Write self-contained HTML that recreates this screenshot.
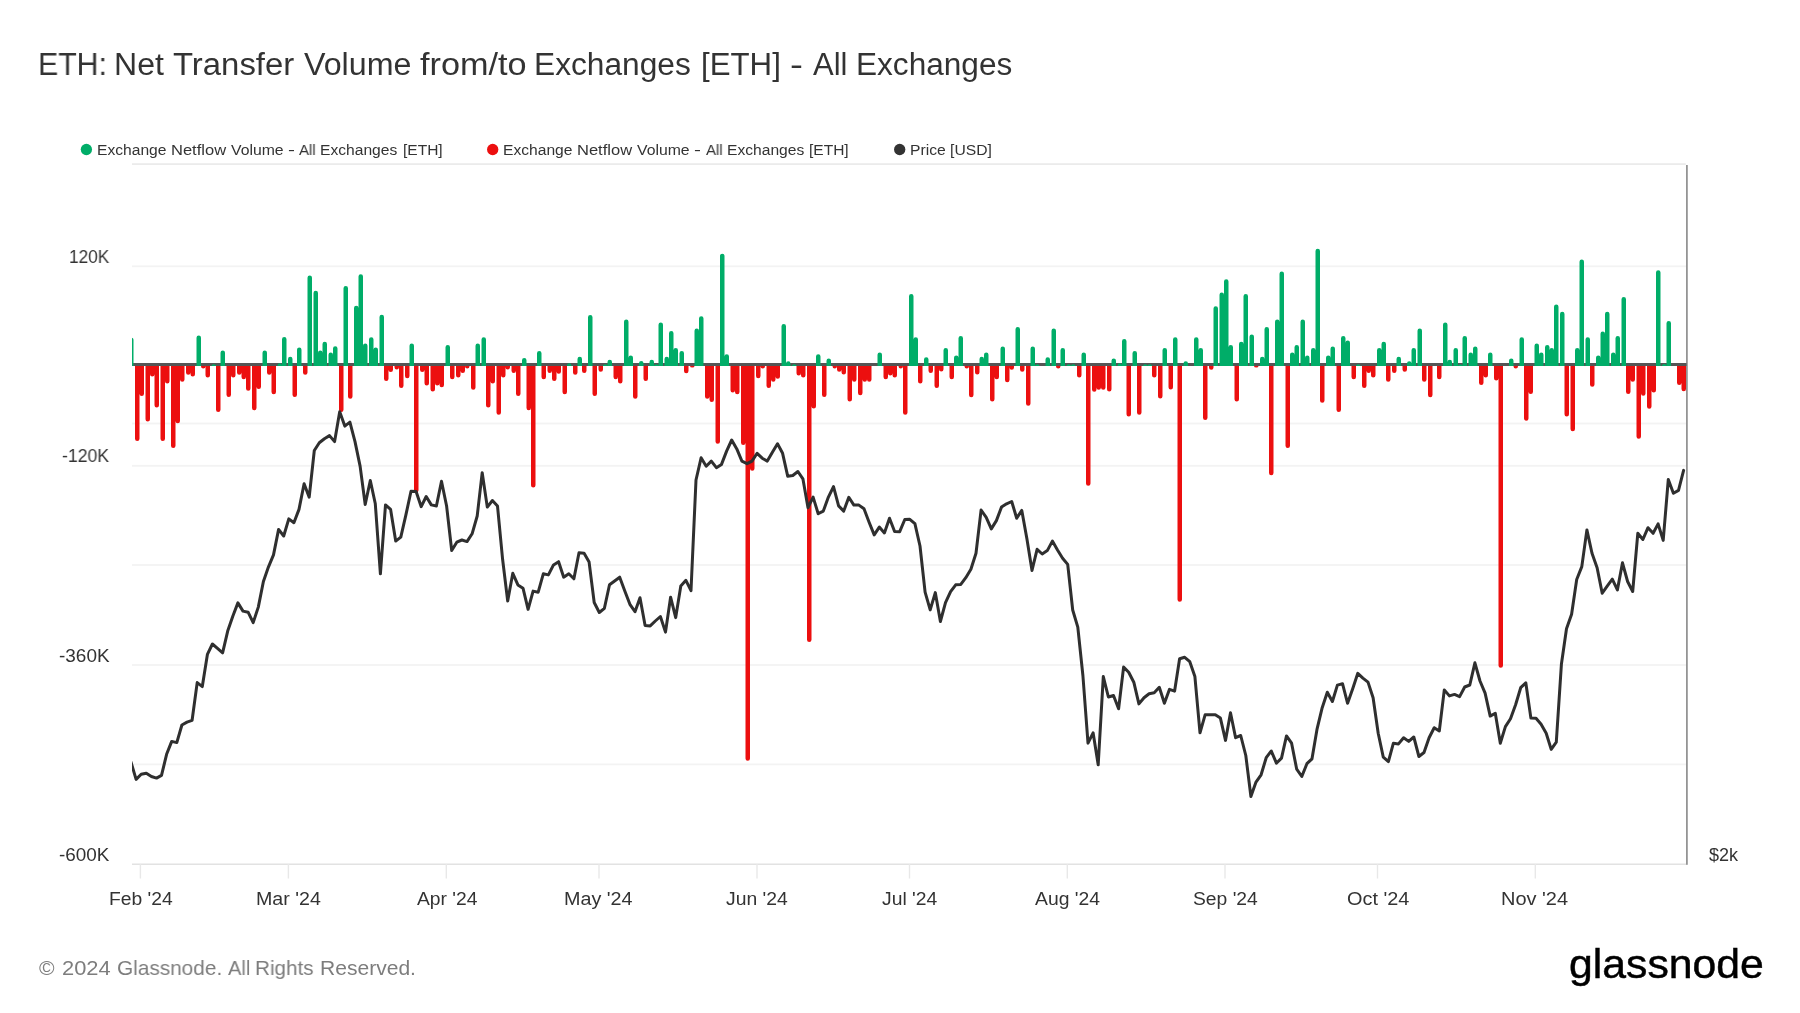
<!DOCTYPE html>
<html><head><meta charset="utf-8"><title>ETH: Net Transfer Volume from/to Exchanges</title>
<style>
html,body{margin:0;padding:0;background:#fff;}
body{width:1800px;height:1013px;position:relative;overflow:hidden;font-family:"Liberation Sans",sans-serif;color:#333;}
.t{position:absolute;white-space:nowrap;line-height:1;transform-origin:0 0;will-change:transform;}
.foot{color:#7d7d7d;}
.logo{color:#000;-webkit-text-stroke:0.45px #000;}
</style></head><body>
<svg width="1800" height="1013" viewBox="0 0 1800 1013" style="position:absolute;left:0;top:0"><defs><clipPath id="cg"><rect x="132" y="160" width="1555" height="206.0"/></clipPath><clipPath id="cr"><rect x="132" y="366.0" width="1555" height="500"/></clipPath><clipPath id="cp"><rect x="132" y="164" width="1555" height="700"/></clipPath></defs><rect x="132" y="265.4" width="1554" height="1.8" fill="#f3f3f3"/><rect x="132" y="422.6" width="1554" height="1.8" fill="#f3f3f3"/><rect x="132" y="464.9" width="1554" height="1.8" fill="#f3f3f3"/><rect x="132" y="564.1" width="1554" height="1.8" fill="#f3f3f3"/><rect x="132" y="664.1" width="1554" height="1.8" fill="#f3f3f3"/><rect x="132" y="763.5" width="1554" height="1.8" fill="#f3f3f3"/><rect x="132" y="163.3" width="1553.8" height="1.6" fill="#e9e9e9"/><rect x="132" y="863.5" width="1554" height="1.5" fill="#e2e2e2"/><rect x="139.7" y="864" width="1.4" height="14.5" fill="#e8e8e8"/><rect x="287.7" y="864" width="1.4" height="14.5" fill="#e8e8e8"/><rect x="445.6" y="864" width="1.4" height="14.5" fill="#e8e8e8"/><rect x="598.3" y="864" width="1.4" height="14.5" fill="#e8e8e8"/><rect x="756.3" y="864" width="1.4" height="14.5" fill="#e8e8e8"/><rect x="908.8" y="864" width="1.4" height="14.5" fill="#e8e8e8"/><rect x="1066.6" y="864" width="1.4" height="14.5" fill="#e8e8e8"/><rect x="1224.3" y="864" width="1.4" height="14.5" fill="#e8e8e8"/><rect x="1376.8" y="864" width="1.4" height="14.5" fill="#e8e8e8"/><rect x="1534.6" y="864" width="1.4" height="14.5" fill="#e8e8e8"/><rect x="1686.05" y="165" width="1.7" height="699.8" fill="#8f8f8f"/><rect x="132" y="363.0" width="1554.5" height="3" fill="#555"/><path d="M135.00 366.00V438.75a2.25 2.25 0 0 0 4.50 0V366.00zM139.50 366.00V393.82a2.25 2.25 0 0 0 4.50 0V366.00zM145.50 366.00V419.15a2.25 2.25 0 0 0 4.50 0V366.00zM150.00 366.00V374.26a2.25 2.25 0 0 0 4.50 0V366.00zM154.50 366.00V405.37a2.25 2.25 0 0 0 4.50 0V366.00zM160.50 366.00V438.75a2.25 2.25 0 0 0 4.50 0V366.00zM165.00 366.00V381.37a2.25 2.25 0 0 0 4.50 0V366.00zM171.00 366.00V445.85a2.25 2.25 0 0 0 4.50 0V366.00zM175.50 366.00V420.95a2.25 2.25 0 0 0 4.50 0V366.00zM180.00 366.00V379.59a2.25 2.25 0 0 0 4.50 0V366.00zM186.00 366.00V372.48a2.25 2.25 0 0 0 4.50 0V366.00zM190.50 366.00V374.26a2.25 2.25 0 0 0 4.50 0V366.00zM201.00 366.00V366.26a2.25 2.25 0 0 0 4.50 0V366.00zM205.50 366.00V375.15a2.25 2.25 0 0 0 4.50 0V366.00zM216.00 366.00V409.82a2.25 2.25 0 0 0 4.50 0V366.00zM226.50 366.00V394.71a2.25 2.25 0 0 0 4.50 0V366.00zM231.00 366.00V375.15a2.25 2.25 0 0 0 4.50 0V366.00zM237.00 366.00V372.48a2.25 2.25 0 0 0 4.50 0V366.00zM241.50 366.00V376.93a2.25 2.25 0 0 0 4.50 0V366.00zM246.00 366.00V388.48a2.25 2.25 0 0 0 4.50 0V366.00zM252.00 366.00V408.04a2.25 2.25 0 0 0 4.50 0V366.00zM256.50 366.00V386.71a2.25 2.25 0 0 0 4.50 0V366.00zM267.00 366.00V372.48a2.25 2.25 0 0 0 4.50 0V366.00zM271.50 366.00V392.04a2.25 2.25 0 0 0 4.50 0V366.00zM292.50 366.00V394.71a2.25 2.25 0 0 0 4.50 0V366.00zM303.00 366.00V372.48a2.25 2.25 0 0 0 4.50 0V366.00zM339.00 366.00V409.82a2.25 2.25 0 0 0 4.50 0V366.00zM348.00 366.00V396.48a2.25 2.25 0 0 0 4.50 0V366.00zM384.00 366.00V378.71a2.25 2.25 0 0 0 4.50 0V366.00zM388.50 366.00V369.82a2.25 2.25 0 0 0 4.50 0V366.00zM394.50 366.00V367.15a2.25 2.25 0 0 0 4.50 0V366.00zM399.00 366.00V385.82a2.25 2.25 0 0 0 4.50 0V366.00zM405.00 366.00V376.04a2.25 2.25 0 0 0 4.50 0V366.00zM414.00 366.00V490.25a2.25 2.25 0 0 0 4.50 0V366.00zM420.00 366.00V369.82a2.25 2.25 0 0 0 4.50 0V366.00zM424.50 366.00V383.15a2.25 2.25 0 0 0 4.50 0V366.00zM430.50 366.00V389.37a2.25 2.25 0 0 0 4.50 0V366.00zM435.00 366.00V383.15a2.25 2.25 0 0 0 4.50 0V366.00zM439.50 366.00V384.93a2.25 2.25 0 0 0 4.50 0V366.00zM450.00 366.00V376.93a2.25 2.25 0 0 0 4.50 0V366.00zM456.00 366.00V375.15a2.25 2.25 0 0 0 4.50 0V366.00zM460.50 366.00V370.71a2.25 2.25 0 0 0 4.50 0V366.00zM465.00 366.00V366.26a2.25 2.25 0 0 0 4.50 0V366.00zM471.00 366.00V387.59a2.25 2.25 0 0 0 4.50 0V366.00zM486.00 366.00V405.37a2.25 2.25 0 0 0 4.50 0V366.00zM490.50 366.00V381.37a2.25 2.25 0 0 0 4.50 0V366.00zM496.50 366.00V412.48a2.25 2.25 0 0 0 4.50 0V366.00zM501.00 366.00V375.15a2.25 2.25 0 0 0 4.50 0V366.00zM505.50 366.00V367.15a2.25 2.25 0 0 0 4.50 0V366.00zM511.50 366.00V370.71a2.25 2.25 0 0 0 4.50 0V366.00zM516.00 366.00V393.82a2.25 2.25 0 0 0 4.50 0V366.00zM526.50 366.00V408.04a2.25 2.25 0 0 0 4.50 0V366.00zM531.00 366.00V485.35a2.25 2.25 0 0 0 4.50 0V366.00zM541.50 366.00V376.93a2.25 2.25 0 0 0 4.50 0V366.00zM547.50 366.00V370.71a2.25 2.25 0 0 0 4.50 0V366.00zM552.00 366.00V378.71a2.25 2.25 0 0 0 4.50 0V366.00zM556.50 366.00V371.59a2.25 2.25 0 0 0 4.50 0V366.00zM562.50 366.00V392.04a2.25 2.25 0 0 0 4.50 0V366.00zM573.00 366.00V372.48a2.25 2.25 0 0 0 4.50 0V366.00zM582.00 366.00V370.71a2.25 2.25 0 0 0 4.50 0V366.00zM592.50 366.00V393.82a2.25 2.25 0 0 0 4.50 0V366.00zM598.50 366.00V369.46a2.25 2.25 0 0 0 4.50 0V366.00zM613.50 366.00V376.93a2.25 2.25 0 0 0 4.50 0V366.00zM618.00 366.00V381.37a2.25 2.25 0 0 0 4.50 0V366.00zM633.00 366.00V396.48a2.25 2.25 0 0 0 4.50 0V366.00zM643.50 366.00V378.71a2.25 2.25 0 0 0 4.50 0V366.00zM684.00 366.00V371.06a2.25 2.25 0 0 0 4.50 0V366.00zM690.00 366.00V366.00a2.25 1.62 0 0 0 4.50 0V366.00zM705.00 366.00V396.48a2.25 2.25 0 0 0 4.50 0V366.00zM709.50 366.00V399.68a2.25 2.25 0 0 0 4.50 0V366.00zM715.50 366.00V441.45a2.25 2.25 0 0 0 4.50 0V366.00zM730.50 366.00V390.26a2.25 2.25 0 0 0 4.50 0V366.00zM735.00 366.00V392.04a2.25 2.25 0 0 0 4.50 0V366.00zM741.00 366.00V442.75a2.25 2.25 0 0 0 4.50 0V366.00zM745.50 366.00V758.45a2.25 2.25 0 0 0 4.50 0V366.00zM750.00 366.00V468.45a2.25 2.25 0 0 0 4.50 0V366.00zM756.00 366.00V376.04a2.25 2.25 0 0 0 4.50 0V366.00zM760.50 366.00V366.26a2.25 2.25 0 0 0 4.50 0V366.00zM766.50 366.00V385.82a2.25 2.25 0 0 0 4.50 0V366.00zM771.00 366.00V379.59a2.25 2.25 0 0 0 4.50 0V366.00zM775.50 366.00V376.39a2.25 2.25 0 0 0 4.50 0V366.00zM796.50 366.00V373.37a2.25 2.25 0 0 0 4.50 0V366.00zM801.00 366.00V375.15a2.25 2.25 0 0 0 4.50 0V366.00zM807.00 366.00V639.75a2.25 2.25 0 0 0 4.50 0V366.00zM811.50 366.00V406.26a2.25 2.25 0 0 0 4.50 0V366.00zM822.00 366.00V394.71a2.25 2.25 0 0 0 4.50 0V366.00zM832.50 366.00V366.26a2.25 2.25 0 0 0 4.50 0V366.00zM837.00 366.00V369.46a2.25 2.25 0 0 0 4.50 0V366.00zM841.50 366.00V372.13a2.25 2.25 0 0 0 4.50 0V366.00zM847.50 366.00V399.15a2.25 2.25 0 0 0 4.50 0V366.00zM852.00 366.00V379.59a2.25 2.25 0 0 0 4.50 0V366.00zM858.00 366.00V392.93a2.25 2.25 0 0 0 4.50 0V366.00zM862.50 366.00V379.59a2.25 2.25 0 0 0 4.50 0V366.00zM867.00 366.00V379.59a2.25 2.25 0 0 0 4.50 0V366.00zM883.50 366.00V376.93a2.25 2.25 0 0 0 4.50 0V366.00zM888.00 366.00V373.37a2.25 2.25 0 0 0 4.50 0V366.00zM892.50 366.00V375.15a2.25 2.25 0 0 0 4.50 0V366.00zM898.50 366.00V366.26a2.25 2.25 0 0 0 4.50 0V366.00zM903.00 366.00V412.48a2.25 2.25 0 0 0 4.50 0V366.00zM918.00 366.00V381.37a2.25 2.25 0 0 0 4.50 0V366.00zM928.50 366.00V370.71a2.25 2.25 0 0 0 4.50 0V366.00zM934.50 366.00V385.82a2.25 2.25 0 0 0 4.50 0V366.00zM939.00 366.00V369.28a2.25 2.25 0 0 0 4.50 0V366.00zM949.50 366.00V376.93a2.25 2.25 0 0 0 4.50 0V366.00zM964.50 366.00V366.26a2.25 2.25 0 0 0 4.50 0V366.00zM969.00 366.00V395.06a2.25 2.25 0 0 0 4.50 0V366.00zM975.00 366.00V372.13a2.25 2.25 0 0 0 4.50 0V366.00zM990.00 366.00V399.15a2.25 2.25 0 0 0 4.50 0V366.00zM994.50 366.00V376.93a2.25 2.25 0 0 0 4.50 0V366.00zM1005.00 366.00V379.95a2.25 2.25 0 0 0 4.50 0V366.00zM1009.50 366.00V367.51a2.25 2.25 0 0 0 4.50 0V366.00zM1020.00 366.00V369.46a2.25 2.25 0 0 0 4.50 0V366.00zM1026.00 366.00V403.59a2.25 2.25 0 0 0 4.50 0V366.00zM1056.00 366.00V366.26a2.25 2.25 0 0 0 4.50 0V366.00zM1077.00 366.00V375.15a2.25 2.25 0 0 0 4.50 0V366.00zM1086.00 366.00V483.45a2.25 2.25 0 0 0 4.50 0V366.00zM1092.00 366.00V389.55a2.25 2.25 0 0 0 4.50 0V366.00zM1096.50 366.00V387.59a2.25 2.25 0 0 0 4.50 0V366.00zM1101.00 366.00V387.59a2.25 2.25 0 0 0 4.50 0V366.00zM1107.00 366.00V389.37a2.25 2.25 0 0 0 4.50 0V366.00zM1126.50 366.00V414.26a2.25 2.25 0 0 0 4.50 0V366.00zM1137.00 366.00V412.48a2.25 2.25 0 0 0 4.50 0V366.00zM1152.00 366.00V375.15a2.25 2.25 0 0 0 4.50 0V366.00zM1158.00 366.00V396.13a2.25 2.25 0 0 0 4.50 0V366.00zM1168.50 366.00V387.24a2.25 2.25 0 0 0 4.50 0V366.00zM1177.50 366.00V599.55a2.25 2.25 0 0 0 4.50 0V366.00zM1203.00 366.00V417.65a2.25 2.25 0 0 0 4.50 0V366.00zM1209.00 366.00V367.51a2.25 2.25 0 0 0 4.50 0V366.00zM1234.50 366.00V399.15a2.25 2.25 0 0 0 4.50 0V366.00zM1254.00 366.00V366.00a2.25 1.62 0 0 0 4.50 0V366.00zM1269.00 366.00V473.05a2.25 2.25 0 0 0 4.50 0V366.00zM1285.50 366.00V445.85a2.25 2.25 0 0 0 4.50 0V366.00zM1320.00 366.00V400.57a2.25 2.25 0 0 0 4.50 0V366.00zM1336.50 366.00V409.82a2.25 2.25 0 0 0 4.50 0V366.00zM1351.50 366.00V376.93a2.25 2.25 0 0 0 4.50 0V366.00zM1362.00 366.00V385.82a2.25 2.25 0 0 0 4.50 0V366.00zM1366.50 366.00V370.71a2.25 2.25 0 0 0 4.50 0V366.00zM1371.00 366.00V375.15a2.25 2.25 0 0 0 4.50 0V366.00zM1386.00 366.00V379.59a2.25 2.25 0 0 0 4.50 0V366.00zM1392.00 366.00V370.71a2.25 2.25 0 0 0 4.50 0V366.00zM1402.50 366.00V369.46a2.25 2.25 0 0 0 4.50 0V366.00zM1422.00 366.00V379.59a2.25 2.25 0 0 0 4.50 0V366.00zM1428.00 366.00V395.06a2.25 2.25 0 0 0 4.50 0V366.00zM1437.00 366.00V376.93a2.25 2.25 0 0 0 4.50 0V366.00zM1479.00 366.00V382.79a2.25 2.25 0 0 0 4.50 0V366.00zM1483.50 366.00V375.15a2.25 2.25 0 0 0 4.50 0V366.00zM1494.00 366.00V378.35a2.25 2.25 0 0 0 4.50 0V366.00zM1498.50 366.00V665.55a2.25 2.25 0 0 0 4.50 0V366.00zM1513.50 366.00V366.26a2.25 2.25 0 0 0 4.50 0V366.00zM1524.00 366.00V418.45a2.25 2.25 0 0 0 4.50 0V366.00zM1528.50 366.00V391.68a2.25 2.25 0 0 0 4.50 0V366.00zM1564.50 366.00V414.26a2.25 2.25 0 0 0 4.50 0V366.00zM1570.50 366.00V428.95a2.25 2.25 0 0 0 4.50 0V366.00zM1590.00 366.00V384.39a2.25 2.25 0 0 0 4.50 0V366.00zM1626.00 366.00V391.68a2.25 2.25 0 0 0 4.50 0V366.00zM1630.50 366.00V379.59a2.25 2.25 0 0 0 4.50 0V366.00zM1636.50 366.00V436.45a2.25 2.25 0 0 0 4.50 0V366.00zM1641.00 366.00V393.46a2.25 2.25 0 0 0 4.50 0V366.00zM1647.00 366.00V406.62a2.25 2.25 0 0 0 4.50 0V366.00zM1651.50 366.00V390.26a2.25 2.25 0 0 0 4.50 0V366.00zM1677.00 366.00V382.79a2.25 2.25 0 0 0 4.50 0V366.00zM1681.50 366.00V389.02a2.25 2.25 0 0 0 4.50 0V366.00z" fill="#ec0f0f" clip-path="url(#cr)"/><path d="M129.00 366.00V339.83a2.25 2.25 0 0 1 4.50 0V366.00zM196.50 366.00V337.74a2.25 2.25 0 0 1 4.50 0V366.00zM211.50 366.00V366.00a2.25 1.76 0 0 1 4.50 0V366.00zM220.50 366.00V352.85a2.25 2.25 0 0 1 4.50 0V366.00zM262.50 366.00V352.85a2.25 2.25 0 0 1 4.50 0V366.00zM277.50 366.00V365.61a2.25 2.25 0 0 1 4.50 0V366.00zM282.00 366.00V339.16a2.25 2.25 0 0 1 4.50 0V366.00zM288.00 366.00V359.07a2.25 2.25 0 0 1 4.50 0V366.00zM297.00 366.00V349.83a2.25 2.25 0 0 1 4.50 0V366.00zM307.50 366.00V277.65a2.25 2.25 0 0 1 4.50 0V366.00zM313.50 366.00V292.94a2.25 2.25 0 0 1 4.50 0V366.00zM318.00 366.00V352.85a2.25 2.25 0 0 1 4.50 0V366.00zM322.50 366.00V343.96a2.25 2.25 0 0 1 4.50 0V366.00zM328.50 366.00V354.63a2.25 2.25 0 0 1 4.50 0V366.00zM333.00 366.00V348.41a2.25 2.25 0 0 1 4.50 0V366.00zM343.50 366.00V288.32a2.25 2.25 0 0 1 4.50 0V366.00zM354.00 366.00V308.05a2.25 2.25 0 0 1 4.50 0V366.00zM358.50 366.00V276.41a2.25 2.25 0 0 1 4.50 0V366.00zM363.00 366.00V345.74a2.25 2.25 0 0 1 4.50 0V366.00zM369.00 366.00V339.52a2.25 2.25 0 0 1 4.50 0V366.00zM373.50 366.00V349.83a2.25 2.25 0 0 1 4.50 0V366.00zM379.50 366.00V316.94a2.25 2.25 0 0 1 4.50 0V366.00zM409.50 366.00V345.74a2.25 2.25 0 0 1 4.50 0V366.00zM445.50 366.00V347.16a2.25 2.25 0 0 1 4.50 0V366.00zM475.50 366.00V345.74a2.25 2.25 0 0 1 4.50 0V366.00zM481.50 366.00V339.52a2.25 2.25 0 0 1 4.50 0V366.00zM522.00 366.00V360.32a2.25 2.25 0 0 1 4.50 0V366.00zM537.00 366.00V353.21a2.25 2.25 0 0 1 4.50 0V366.00zM567.00 366.00V365.61a2.25 2.25 0 0 1 4.50 0V366.00zM577.50 366.00V359.07a2.25 2.25 0 0 1 4.50 0V366.00zM588.00 366.00V317.29a2.25 2.25 0 0 1 4.50 0V366.00zM603.00 366.00V366.00a2.25 1.76 0 0 1 4.50 0V366.00zM607.50 366.00V362.09a2.25 2.25 0 0 1 4.50 0V366.00zM624.00 366.00V321.74a2.25 2.25 0 0 1 4.50 0V366.00zM628.50 366.00V357.83a2.25 2.25 0 0 1 4.50 0V366.00zM639.00 366.00V363.16a2.25 2.25 0 0 1 4.50 0V366.00zM649.50 366.00V362.09a2.25 2.25 0 0 1 4.50 0V366.00zM654.00 366.00V366.00a2.25 1.76 0 0 1 4.50 0V366.00zM658.50 366.00V324.76a2.25 2.25 0 0 1 4.50 0V366.00zM664.50 366.00V359.07a2.25 2.25 0 0 1 4.50 0V366.00zM669.00 366.00V333.29a2.25 2.25 0 0 1 4.50 0V366.00zM673.50 366.00V350.18a2.25 2.25 0 0 1 4.50 0V366.00zM679.50 366.00V353.21a2.25 2.25 0 0 1 4.50 0V366.00zM694.50 366.00V330.63a2.25 2.25 0 0 1 4.50 0V366.00zM699.00 366.00V318.54a2.25 2.25 0 0 1 4.50 0V366.00zM720.00 366.00V255.96a2.25 2.25 0 0 1 4.50 0V366.00zM724.50 366.00V356.41a2.25 2.25 0 0 1 4.50 0V366.00zM781.50 366.00V326.18a2.25 2.25 0 0 1 4.50 0V366.00zM786.00 366.00V363.52a2.25 2.25 0 0 1 4.50 0V366.00zM792.00 366.00V366.00a2.25 1.76 0 0 1 4.50 0V366.00zM816.00 366.00V356.41a2.25 2.25 0 0 1 4.50 0V366.00zM826.50 366.00V360.85a2.25 2.25 0 0 1 4.50 0V366.00zM877.50 366.00V354.63a2.25 2.25 0 0 1 4.50 0V366.00zM909.00 366.00V296.32a2.25 2.25 0 0 1 4.50 0V366.00zM913.50 366.00V339.52a2.25 2.25 0 0 1 4.50 0V366.00zM924.00 366.00V359.43a2.25 2.25 0 0 1 4.50 0V366.00zM943.50 366.00V350.18a2.25 2.25 0 0 1 4.50 0V366.00zM954.00 366.00V357.83a2.25 2.25 0 0 1 4.50 0V366.00zM958.50 366.00V338.27a2.25 2.25 0 0 1 4.50 0V366.00zM979.50 366.00V359.07a2.25 2.25 0 0 1 4.50 0V366.00zM984.00 366.00V354.63a2.25 2.25 0 0 1 4.50 0V366.00zM1000.50 366.00V348.76a2.25 2.25 0 0 1 4.50 0V366.00zM1015.50 366.00V329.21a2.25 2.25 0 0 1 4.50 0V366.00zM1030.50 366.00V348.76a2.25 2.25 0 0 1 4.50 0V366.00zM1035.00 366.00V366.00a2.25 1.76 0 0 1 4.50 0V366.00zM1045.50 366.00V359.43a2.25 2.25 0 0 1 4.50 0V366.00zM1051.50 366.00V330.63a2.25 2.25 0 0 1 4.50 0V366.00zM1060.50 366.00V350.18a2.25 2.25 0 0 1 4.50 0V366.00zM1066.50 366.00V366.00a2.25 1.76 0 0 1 4.50 0V366.00zM1071.00 366.00V366.00a2.25 1.76 0 0 1 4.50 0V366.00zM1081.50 366.00V354.63a2.25 2.25 0 0 1 4.50 0V366.00zM1111.50 366.00V360.85a2.25 2.25 0 0 1 4.50 0V366.00zM1117.50 366.00V365.61a2.25 2.25 0 0 1 4.50 0V366.00zM1122.00 366.00V341.29a2.25 2.25 0 0 1 4.50 0V366.00zM1132.50 366.00V353.21a2.25 2.25 0 0 1 4.50 0V366.00zM1143.00 366.00V366.00a2.25 1.76 0 0 1 4.50 0V366.00zM1147.50 366.00V366.00a2.25 1.76 0 0 1 4.50 0V366.00zM1162.50 366.00V350.18a2.25 2.25 0 0 1 4.50 0V366.00zM1173.00 366.00V339.52a2.25 2.25 0 0 1 4.50 0V366.00zM1183.50 366.00V363.52a2.25 2.25 0 0 1 4.50 0V366.00zM1194.00 366.00V339.52a2.25 2.25 0 0 1 4.50 0V366.00zM1198.50 366.00V350.18a2.25 2.25 0 0 1 4.50 0V366.00zM1213.50 366.00V308.41a2.25 2.25 0 0 1 4.50 0V366.00zM1219.50 366.00V294.72a2.25 2.25 0 0 1 4.50 0V366.00zM1224.00 366.00V281.38a2.25 2.25 0 0 1 4.50 0V366.00zM1228.50 366.00V347.16a2.25 2.25 0 0 1 4.50 0V366.00zM1239.00 366.00V343.96a2.25 2.25 0 0 1 4.50 0V366.00zM1243.50 366.00V296.32a2.25 2.25 0 0 1 4.50 0V366.00zM1249.50 366.00V336.85a2.25 2.25 0 0 1 4.50 0V366.00zM1260.00 366.00V359.07a2.25 2.25 0 0 1 4.50 0V366.00zM1264.50 366.00V329.21a2.25 2.25 0 0 1 4.50 0V366.00zM1275.00 366.00V321.74a2.25 2.25 0 0 1 4.50 0V366.00zM1279.50 366.00V273.74a2.25 2.25 0 0 1 4.50 0V366.00zM1290.00 366.00V354.63a2.25 2.25 0 0 1 4.50 0V366.00zM1294.50 366.00V347.16a2.25 2.25 0 0 1 4.50 0V366.00zM1300.50 366.00V321.74a2.25 2.25 0 0 1 4.50 0V366.00zM1305.00 366.00V357.83a2.25 2.25 0 0 1 4.50 0V366.00zM1311.00 366.00V350.18a2.25 2.25 0 0 1 4.50 0V366.00zM1315.50 366.00V250.98a2.25 2.25 0 0 1 4.50 0V366.00zM1326.00 366.00V357.83a2.25 2.25 0 0 1 4.50 0V366.00zM1330.50 366.00V348.76a2.25 2.25 0 0 1 4.50 0V366.00zM1341.00 366.00V338.27a2.25 2.25 0 0 1 4.50 0V366.00zM1345.50 366.00V342.72a2.25 2.25 0 0 1 4.50 0V366.00zM1356.00 366.00V366.00a2.25 1.76 0 0 1 4.50 0V366.00zM1377.00 366.00V350.18a2.25 2.25 0 0 1 4.50 0V366.00zM1381.50 366.00V343.96a2.25 2.25 0 0 1 4.50 0V366.00zM1396.50 366.00V359.07a2.25 2.25 0 0 1 4.50 0V366.00zM1407.00 366.00V363.52a2.25 2.25 0 0 1 4.50 0V366.00zM1411.50 366.00V350.18a2.25 2.25 0 0 1 4.50 0V366.00zM1417.50 366.00V330.63a2.25 2.25 0 0 1 4.50 0V366.00zM1443.00 366.00V324.76a2.25 2.25 0 0 1 4.50 0V366.00zM1447.50 366.00V362.09a2.25 2.25 0 0 1 4.50 0V366.00zM1453.50 366.00V350.18a2.25 2.25 0 0 1 4.50 0V366.00zM1458.00 366.00V366.00a2.25 1.76 0 0 1 4.50 0V366.00zM1462.50 366.00V338.27a2.25 2.25 0 0 1 4.50 0V366.00zM1468.50 366.00V354.63a2.25 2.25 0 0 1 4.50 0V366.00zM1473.00 366.00V348.76a2.25 2.25 0 0 1 4.50 0V366.00zM1488.00 366.00V354.63a2.25 2.25 0 0 1 4.50 0V366.00zM1509.00 366.00V360.85a2.25 2.25 0 0 1 4.50 0V366.00zM1519.50 366.00V339.52a2.25 2.25 0 0 1 4.50 0V366.00zM1534.50 366.00V345.74a2.25 2.25 0 0 1 4.50 0V366.00zM1539.00 366.00V354.63a2.25 2.25 0 0 1 4.50 0V366.00zM1545.00 366.00V347.16a2.25 2.25 0 0 1 4.50 0V366.00zM1549.50 366.00V350.18a2.25 2.25 0 0 1 4.50 0V366.00zM1554.00 366.00V306.63a2.25 2.25 0 0 1 4.50 0V366.00zM1560.00 366.00V314.09a2.25 2.25 0 0 1 4.50 0V366.00zM1575.00 366.00V350.18a2.25 2.25 0 0 1 4.50 0V366.00zM1579.50 366.00V261.83a2.25 2.25 0 0 1 4.50 0V366.00zM1585.50 366.00V339.52a2.25 2.25 0 0 1 4.50 0V366.00zM1596.00 366.00V357.83a2.25 2.25 0 0 1 4.50 0V366.00zM1600.50 366.00V333.65a2.25 2.25 0 0 1 4.50 0V366.00zM1605.00 366.00V314.09a2.25 2.25 0 0 1 4.50 0V366.00zM1611.00 366.00V354.63a2.25 2.25 0 0 1 4.50 0V366.00zM1615.50 366.00V338.27a2.25 2.25 0 0 1 4.50 0V366.00zM1621.50 366.00V299.16a2.25 2.25 0 0 1 4.50 0V366.00zM1656.00 366.00V272.49a2.25 2.25 0 0 1 4.50 0V366.00zM1662.00 366.00V366.00a2.25 2.11 0 0 1 4.50 0V366.00zM1666.50 366.00V323.16a2.25 2.25 0 0 1 4.50 0V366.00z" fill="#00ad68" clip-path="url(#cg)"/><path d="M131.0 762.1L136.1 779.4L141.2 774.3L146.3 773.2L151.4 776.5L156.5 778.1L161.5 775.4L166.6 754.3L171.7 741.4L176.8 742.6L181.9 725.0L187.0 722.1L192.1 720.3L197.2 682.6L202.3 686.6L207.4 654.4L212.4 644.0L217.5 648.4L222.6 652.8L227.7 631.1L232.8 616.2L237.9 602.9L243.0 611.1L248.1 612.2L253.2 622.6L258.3 607.1L263.4 581.5L268.4 567.1L273.5 554.9L278.6 529.4L283.7 536.0L288.8 518.9L293.9 522.7L299.0 509.4L304.1 483.8L309.2 497.2L314.3 450.5L319.3 442.7L324.4 438.7L329.5 435.6L334.6 441.6L339.7 411.7L344.8 426.1L349.9 422.1L355.0 441.6L360.1 466.1L365.2 504.5L370.3 480.5L375.3 503.8L380.4 573.8L385.5 504.9L390.6 509.4L395.7 541.1L400.8 537.1L405.9 514.9L411.0 491.2L416.1 491.6L421.2 506.7L426.2 496.5L431.3 504.9L436.4 506.0L441.5 481.2L446.6 506.0L451.7 550.5L456.8 542.2L461.9 540.0L467.0 541.6L472.1 533.8L477.2 516.0L482.2 472.7L487.3 507.1L492.4 500.5L497.5 506.0L502.6 559.3L507.7 601.1L512.8 573.3L517.9 584.9L523.0 588.2L528.1 609.3L533.1 591.1L538.2 592.2L543.3 573.8L548.4 574.9L553.5 564.9L558.6 561.7L563.7 577.2L568.8 573.7L573.9 578.8L579.0 552.8L584.1 553.2L589.1 562.1L594.2 602.5L599.3 612.5L604.4 608.3L609.5 584.8L614.6 581.0L619.7 577.2L624.8 591.0L629.9 604.3L635.0 611.7L640.0 597.7L645.1 625.4L650.2 625.9L655.3 621.0L660.4 616.5L665.5 632.1L670.6 597.2L675.7 617.6L680.8 585.9L685.9 580.3L691.0 590.6L696.0 480.0L701.1 457.8L706.2 466.2L711.3 461.1L716.4 467.7L721.5 464.4L726.6 451.1L731.7 440.0L736.8 448.9L741.9 461.1L747.0 463.7L752.0 461.1L757.1 453.3L762.2 458.2L767.3 461.1L772.4 452.2L777.5 443.8L782.6 453.3L787.7 476.2L792.8 475.5L797.9 471.5L802.9 478.8L808.0 507.7L813.1 497.1L818.2 513.7L823.3 511.1L828.4 497.1L833.5 486.6L838.6 505.9L843.7 511.1L848.8 497.3L853.9 505.1L858.9 505.1L864.0 508.8L869.1 522.2L874.2 534.9L879.3 527.1L884.4 532.9L889.5 518.2L894.6 531.5L899.7 531.7L904.8 519.5L909.8 519.3L914.9 523.7L920.0 546.0L925.1 592.1L930.2 609.9L935.3 592.6L940.4 621.5L945.5 602.6L950.6 591.7L955.7 584.8L960.8 584.4L965.8 577.7L970.9 569.3L976.0 553.3L981.1 510.0L986.2 517.3L991.3 528.9L996.4 520.6L1001.5 507.1L1006.6 503.8L1011.7 501.5L1016.7 518.2L1021.8 510.4L1026.9 538.8L1032.0 570.4L1037.1 549.3L1042.2 554.0L1047.3 550.6L1052.4 541.1L1057.5 550.0L1062.6 558.2L1067.7 564.4L1072.7 610.0L1077.8 627.1L1082.9 675.5L1088.0 743.2L1093.1 732.8L1098.2 764.8L1103.3 676.6L1108.4 697.0L1113.5 695.5L1118.6 708.8L1123.6 667.1L1128.7 672.2L1133.8 682.2L1138.9 703.9L1144.0 697.7L1149.1 693.7L1154.2 692.8L1159.3 687.3L1164.4 703.3L1169.5 689.3L1174.6 691.1L1179.6 658.8L1184.7 657.3L1189.8 661.7L1194.9 676.6L1200.0 732.8L1205.1 714.8L1210.2 714.8L1215.3 714.8L1220.4 718.1L1225.5 740.4L1230.5 712.8L1235.6 737.7L1240.7 735.5L1245.8 755.5L1250.9 796.5L1256.0 782.1L1261.1 774.8L1266.2 757.7L1271.3 751.0L1276.4 763.2L1281.5 758.1L1286.5 735.9L1291.6 743.2L1296.7 769.2L1301.8 776.5L1306.9 763.7L1312.0 758.8L1317.1 728.8L1322.2 707.7L1327.3 692.2L1332.4 701.5L1337.4 685.1L1342.5 683.7L1347.6 703.3L1352.7 688.8L1357.8 673.3L1362.9 678.1L1368.0 682.1L1373.1 697.7L1378.2 733.2L1383.3 757.2L1388.4 761.6L1393.4 743.2L1398.5 743.9L1403.6 737.7L1408.7 741.4L1413.8 737.0L1418.9 756.5L1424.0 752.5L1429.1 737.7L1434.2 727.7L1439.3 731.0L1444.3 689.9L1449.4 695.9L1454.5 694.4L1459.6 696.6L1464.7 687.0L1469.8 685.0L1474.9 662.8L1480.0 681.0L1485.1 693.2L1490.2 716.1L1495.3 713.2L1500.3 743.2L1505.4 726.6L1510.5 718.8L1515.6 704.8L1520.7 687.7L1525.8 682.8L1530.9 718.1L1536.0 718.3L1541.1 724.3L1546.2 733.2L1551.2 749.4L1556.3 742.1L1561.4 664.3L1566.5 628.8L1571.6 614.3L1576.7 579.5L1581.8 566.6L1586.9 529.9L1592.0 553.3L1597.1 567.7L1602.2 593.2L1607.2 586.1L1612.3 579.2L1617.4 589.9L1622.5 562.8L1627.6 581.5L1632.7 591.5L1637.8 533.3L1642.9 539.5L1648.0 527.7L1653.1 533.3L1658.1 523.9L1663.2 540.4L1668.3 479.5L1673.4 493.3L1678.5 490.4L1683.6 470.4" stroke="#2f2f2f" stroke-width="3" stroke-linejoin="round" stroke-linecap="round" fill="none" clip-path="url(#cp)"/><circle cx="86.4" cy="149.5" r="5.65" fill="#00ad68"/><circle cx="492.7" cy="149.5" r="5.65" fill="#ec0f0f"/><circle cx="899.7" cy="149.5" r="5.65" fill="#333"/></svg>
<div class="title"><span class="t" style="left:37.58px;top:48.66px;font-size:31px;transform:scaleX(0.9769)">ETH:</span> <span class="t" style="left:113.54px;top:48.66px;font-size:31px;transform:scaleX(1.0334)">Net</span> <span class="t" style="left:173.44px;top:48.66px;font-size:31px;transform:scaleX(1.0605)">Transfer</span> <span class="t" style="left:303.90px;top:48.66px;font-size:31px;transform:scaleX(1.0389)">Volume</span> <span class="t" style="left:419.86px;top:48.66px;font-size:31px;transform:scaleX(1.1045)">from/to</span> <span class="t" style="left:534.46px;top:48.66px;font-size:31px;transform:scaleX(1.0226)">Exchanges</span> <span class="t" style="left:700.61px;top:48.66px;font-size:31px;transform:scaleX(1.0073)">[ETH]</span> <span class="t" style="left:790.45px;top:48.66px;font-size:31px;transform:scaleX(1.2516)">-</span> <span class="t" style="left:812.80px;top:48.66px;font-size:31px;transform:scaleX(0.9993)">All</span> <span class="t" style="left:855.77px;top:48.66px;font-size:31px;transform:scaleX(1.0186)">Exchanges</span></div>
<div class="lg"><span class="t" style="left:96.95px;top:142.28px;font-size:15.5px;transform:scaleX(1.0080)">Exchange</span> <span class="t" style="left:170.78px;top:142.28px;font-size:15.5px;transform:scaleX(1.0656)">Netflow</span> <span class="t" style="left:231.10px;top:142.28px;font-size:15.5px;transform:scaleX(1.0184)">Volume</span> <span class="t" style="left:287.77px;top:142.28px;font-size:15.5px;transform:scaleX(1.3419)">-</span> <span class="t" style="left:299.30px;top:142.28px;font-size:15.5px;transform:scaleX(0.9654)">All</span> <span class="t" style="left:320.25px;top:142.28px;font-size:15.5px;transform:scaleX(1.0079)">Exchanges</span> <span class="t" style="left:402.61px;top:142.28px;font-size:15.5px;transform:scaleX(1.0006)">[ETH]</span></div>
<div class="lg"><span class="t" style="left:503.25px;top:142.28px;font-size:15.5px;transform:scaleX(1.0080)">Exchange</span> <span class="t" style="left:577.08px;top:142.28px;font-size:15.5px;transform:scaleX(1.0656)">Netflow</span> <span class="t" style="left:637.40px;top:142.28px;font-size:15.5px;transform:scaleX(1.0184)">Volume</span> <span class="t" style="left:694.07px;top:142.28px;font-size:15.5px;transform:scaleX(1.3419)">-</span> <span class="t" style="left:705.60px;top:142.28px;font-size:15.5px;transform:scaleX(0.9654)">All</span> <span class="t" style="left:726.55px;top:142.28px;font-size:15.5px;transform:scaleX(1.0079)">Exchanges</span> <span class="t" style="left:808.91px;top:142.28px;font-size:15.5px;transform:scaleX(1.0006)">[ETH]</span></div>
<div class="lg"><span class="t" style="left:910.45px;top:142.28px;font-size:15.5px;transform:scaleX(1.0119)">Price [USD]</span></div>
<div class="ax"><span class="t" style="left:68.71px;top:248.26px;font-size:18px;transform:scaleX(0.9590)">120K</span></div>
<div class="ax"><span class="t" style="left:61.99px;top:447.26px;font-size:18px;transform:scaleX(0.9812)">-120K</span></div>
<div class="ax"><span class="t" style="left:58.54px;top:647.26px;font-size:18px;transform:scaleX(1.0533)">-360K</span></div>
<div class="ax"><span class="t" style="left:58.64px;top:846.26px;font-size:18px;transform:scaleX(1.0490)">-600K</span></div>
<div class="ax"><span class="t" style="left:1709.12px;top:846.26px;font-size:18px;transform:scaleX(0.9920)">$2k</span></div>
<div class="ax"><span class="t" style="left:108.66px;top:890.01px;font-size:18.3px;transform:scaleX(1.0543)">Feb '24</span></div>
<div class="ax"><span class="t" style="left:255.63px;top:890.01px;font-size:18.3px;transform:scaleX(1.0734)">Mar '24</span></div>
<div class="ax"><span class="t" style="left:416.50px;top:890.01px;font-size:18.3px;transform:scaleX(1.0539)">Apr '24</span></div>
<div class="ax"><span class="t" style="left:564.42px;top:890.01px;font-size:18.3px;transform:scaleX(1.0802)">May '24</span></div>
<div class="ax"><span class="t" style="left:726.21px;top:890.01px;font-size:18.3px;transform:scaleX(1.0575)">Jun '24</span></div>
<div class="ax"><span class="t" style="left:882.21px;top:890.01px;font-size:18.3px;transform:scaleX(1.0567)">Jul '24</span></div>
<div class="ax"><span class="t" style="left:1035.00px;top:890.01px;font-size:18.3px;transform:scaleX(1.0571)">Aug '24</span></div>
<div class="ax"><span class="t" style="left:1192.63px;top:890.01px;font-size:18.3px;transform:scaleX(1.0550)">Sep '24</span></div>
<div class="ax"><span class="t" style="left:1346.60px;top:890.01px;font-size:18.3px;transform:scaleX(1.0873)">Oct '24</span></div>
<div class="ax"><span class="t" style="left:1501.40px;top:890.01px;font-size:18.3px;transform:scaleX(1.0918)">Nov '24</span></div>
<div class="foot"><span class="t" style="left:38.68px;top:957.02px;font-size:21px;transform:scaleX(1.0060)">©</span> <span class="t" style="left:61.61px;top:957.02px;font-size:21px;transform:scaleX(1.0417)">2024</span> <span class="t" style="left:116.66px;top:957.02px;font-size:21px;transform:scaleX(0.9900)">Glassnode.</span> <span class="t" style="left:227.80px;top:957.02px;font-size:21px;transform:scaleX(0.9577)">All</span> <span class="t" style="left:255.45px;top:957.02px;font-size:21px;transform:scaleX(0.9841)">Rights</span> <span class="t" style="left:319.92px;top:957.02px;font-size:21px;transform:scaleX(1.0023)">Reserved.</span></div>
<div class="logo"><span class="t" style="left:1568.59px;top:944.24px;font-size:40px;transform:scaleX(1.0686)">glassnode</span></div>
</body></html>
